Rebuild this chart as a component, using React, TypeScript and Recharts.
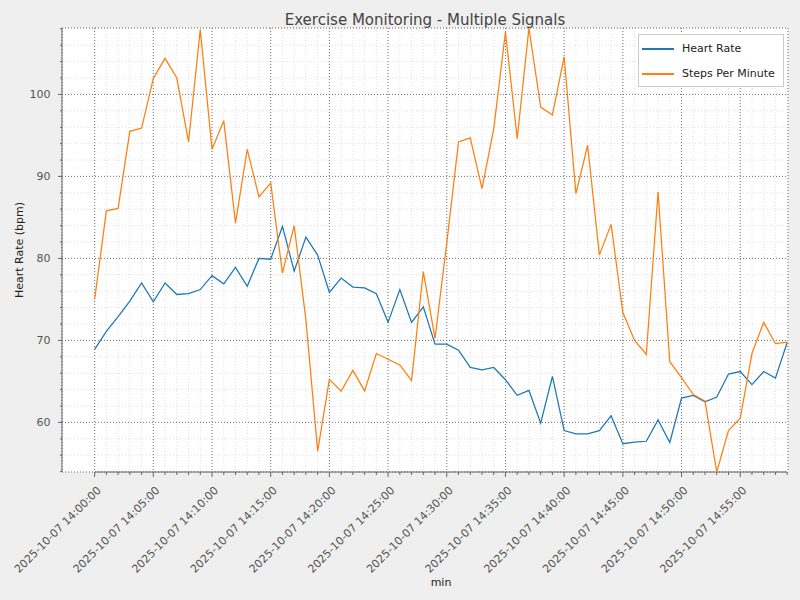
import { CartesianGrid, Line, LineChart, ReferenceLine, XAxis, YAxis } from "recharts";

// minutes after 14:00 on 2025-10-07
const minutes = [
  0, 1, 2, 3, 4, 5, 6, 7, 8, 9, 10, 11, 12, 13, 14, 15, 16, 17, 18, 19, 20, 21, 22, 23, 24, 25, 26, 27, 28, 29,
  30, 31, 32, 33, 34, 35, 36, 37, 38, 39, 40, 41, 42, 43, 44, 45, 46, 47, 48, 49, 50, 51, 52, 53, 54, 55, 56, 57,
  58, 59,
];

const heartRate = [
  68.9, 71.1, 72.9, 74.8, 77.0, 74.7, 77.0, 75.6, 75.7, 76.2, 77.9, 76.9, 78.9, 76.6, 80.0, 79.9, 83.9, 78.45,
  82.6, 80.4, 75.85, 77.6, 76.5, 76.4, 75.7, 72.2, 76.2, 72.2, 74.1, 69.55, 69.55, 68.8, 66.7, 66.4, 66.7, 65.2,
  63.3, 63.9, 59.9, 65.6, 59.0, 58.6, 58.6, 59.0, 60.8, 57.4, 57.6, 57.7, 60.3, 57.55, 62.96, 63.3, 62.5, 63.1,
  65.9, 66.2, 64.6, 66.2, 65.4, 69.75,
];

const stepsPerMinute = [
  75.0, 85.8, 86.1, 95.5, 95.9, 101.95, 104.4, 102.0, 94.2, 107.9, 93.3, 96.8, 84.3, 93.3, 87.5, 89.2, 78.2, 84.0,
  72.5, 56.5, 65.25, 63.8, 66.35, 63.85, 68.4, 67.7, 67.0, 65.1, 78.4, 70.25, 81.9, 94.2, 94.7, 88.5, 95.8, 107.6,
  94.6, 108.1, 98.45, 97.5, 104.6, 87.9, 93.8, 80.4, 84.15, 73.4, 70.0, 68.3, 88.1, 67.4, 65.45, 63.4, 62.6, 53.95,
  59.0, 60.5, 68.4, 72.2, 69.6, 69.8,
];

const majorMinuteTicks = [0, 5, 10, 15, 20, 25, 30, 35, 40, 45, 50, 55];
const majorValueTicks = [60, 70, 80, 90, 100];
const minorValueTicks = [
  54, 56, 58, 60, 62, 64, 66, 68, 70, 72, 74, 76, 78, 80, 82, 84, 86, 88, 90, 92, 94, 96, 98, 100, 102, 104, 106, 108,
];

const BLUE = "#1f77b4";
const ORANGE = "#ff7f0e";
const AXIS = "#666";

const data = minutes.map((m, i) => ({ minute: m, heartRate: heartRate[i], steps: stepsPerMinute[i] }));
const allValues = [...heartRate, ...stepsPerMinute];
const yDomain = [Math.min(...allValues), Math.max(...allValues)];
const xDomain = [-2.78, 59.07];

function MinuteTick({ x, y, payload }: any) {
  const major = majorMinuteTicks.includes(payload.value);
  const mm = String(payload.value).padStart(2, "0");
  const tx = x + 7;
  const ty = y + 19;
  return (
    <g>
      <line x1={x} x2={x} y1={y} y2={y + (major ? 5 : 3)} stroke={AXIS} />
      {major && (
        <text x={tx} y={ty} transform={`rotate(-45 ${tx} ${ty})`} textAnchor="end" fontSize={11} fill="#555">
          {`2025-10-07 14:${mm}:00`}
        </text>
      )}
    </g>
  );
}

function ValueTick({ x, y, payload }: any) {
  const major = majorValueTicks.includes(payload.value);
  return (
    <g>
      <line x1={x - (major ? 4 : 2)} x2={x} y1={y} y2={y} stroke={AXIS} />
      {major && (
        <text x={x - 11.5} y={y} dy={4} textAnchor="end" fontSize={11} fill="#555">
          {payload.value}
        </text>
      )}
    </g>
  );
}

function YLabel({ viewBox }: any) {
  const cx = viewBox.x + 19;
  const cy = viewBox.y + viewBox.height / 2;
  return (
    <text x={cx} y={cy} dy={4} transform={`rotate(-90 ${cx} ${cy})`} textAnchor="middle" fontSize={11} fill="#222">
      Heart Rate (bpm)
    </text>
  );
}

function XLabel({ viewBox }: any) {
  const cx = viewBox.x + viewBox.width / 2 + 16;
  return (
    <text x={cx} y={viewBox.y + 114} textAnchor="middle" fontSize={11} fill="#222">
      min
    </text>
  );
}

function LegendBox() {
  const rows = [
    { label: "Heart Rate", color: BLUE },
    { label: "Steps Per Minute", color: ORANGE },
  ];
  return (
    <div
      style={{
        position: "absolute",
        left: 638,
        top: 34,
        width: 144,
        height: 51,
        border: "1px solid #ccc",
        background: "#fff",
      }}
    >
      {rows.map((r, i) => (
        <div
          key={r.label}
          style={{ position: "absolute", left: 3, top: 6 + i * 25, height: 16, display: "flex", alignItems: "center" }}
        >
          <div style={{ width: 32, height: 2, background: r.color }} />
          <span style={{ marginLeft: 8, fontSize: 11, color: "#222", lineHeight: "16px" }}>{r.label}</span>
        </div>
      ))}
    </div>
  );
}

export default function App() {
  return (
    <div
      style={{
        position: "absolute",
        left: 0,
        top: 0,
        width: 800,
        height: 600,
        background: "#efefef",
        fontFamily: "'DejaVu Sans', sans-serif",
      }}
    >
      <div
        style={{
          position: "absolute",
          top: 11,
          left: 62,
          width: 726,
          textAlign: "center",
          fontSize: 15,
          lineHeight: "18px",
          color: "#444",
        }}
      >
        Exercise Monitoring - Multiple Signals
      </div>
      <LineChart width={800} height={600} data={data} margin={{ top: 28, right: 12, left: 0, bottom: 0 }}>
        <CartesianGrid xAxisId="x" yAxisId="y" stroke="#e0e0e0" strokeDasharray="1 2" fill="#fff" />
        <CartesianGrid xAxisId="xMajor" yAxisId="yMajor" stroke="#777" strokeDasharray="1 2" />
        <XAxis
          xAxisId="x"
          dataKey="minute"
          type="number"
          domain={xDomain}
          allowDataOverflow
          ticks={minutes}
          interval={0}
          height={128}
          tickSize={0}
          tickMargin={0}
          tickLine={false}
          axisLine={false}
          tick={<MinuteTick />}
          label={<XLabel />}
        />
        <XAxis xAxisId="xMajor" dataKey="minute" type="number" domain={xDomain} allowDataOverflow ticks={majorMinuteTicks} hide />
        <YAxis
          yAxisId="y"
          type="number"
          domain={yDomain}
          allowDataOverflow
          ticks={minorValueTicks}
          interval={0}
          width={62}
          tickSize={0}
          tickMargin={0}
          tickLine={false}
          axisLine={{ stroke: AXIS }}
          tick={<ValueTick />}
          label={<YLabel />}
        />
        <YAxis yAxisId="yMajor" type="number" domain={yDomain} allowDataOverflow ticks={majorValueTicks} hide />
        <ReferenceLine
          xAxisId="x"
          yAxisId="y"
          segment={[
            { x: minutes[0], y: yDomain[0] },
            { x: minutes[minutes.length - 1], y: yDomain[0] },
          ]}
          stroke={AXIS}
          ifOverflow="visible"
        />
        <Line xAxisId="x" yAxisId="y" type="linear" dataKey="heartRate" name="Heart Rate" stroke={BLUE} strokeWidth={1.25} dot={false} isAnimationActive={false} />
        <Line xAxisId="x" yAxisId="y" type="linear" dataKey="steps" name="Steps Per Minute" stroke={ORANGE} strokeWidth={1.25} dot={false} isAnimationActive={false} />
      </LineChart>
      <LegendBox />
    </div>
  );
}
